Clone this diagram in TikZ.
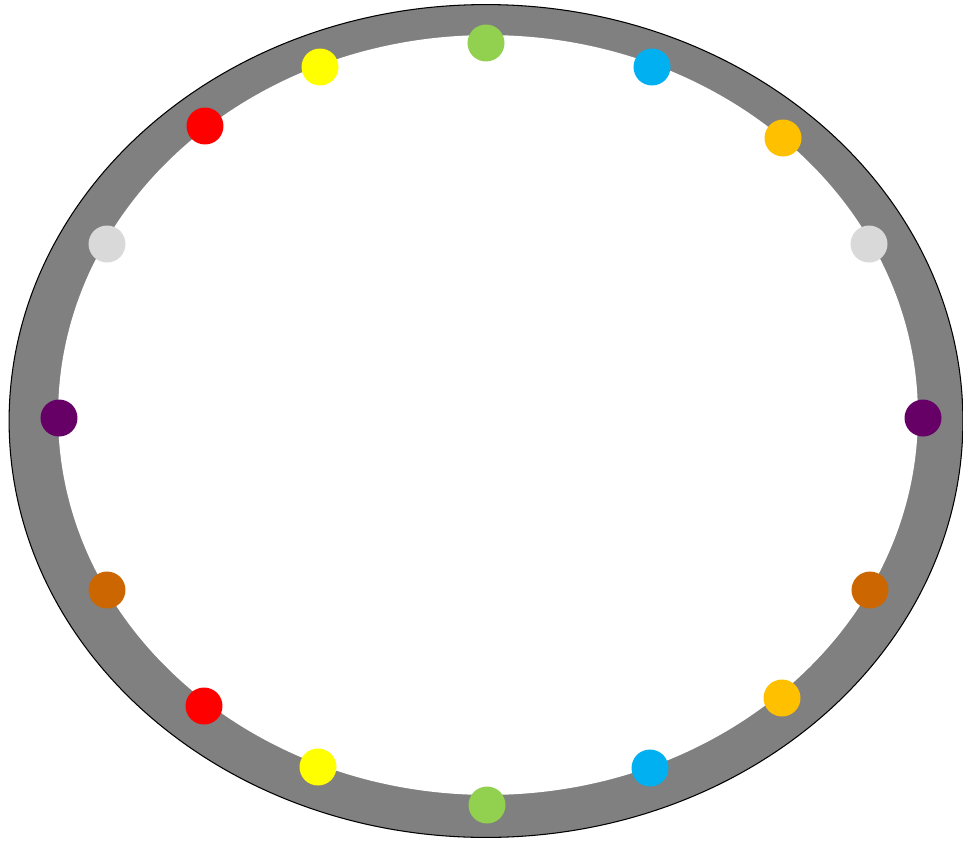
\documentclass[tikz,border=0pt]{standalone}
\usepackage{xcolor}
\usepackage{tikz}
\definecolor{cring}{HTML}{808080}
\definecolor{cgreen}{HTML}{92D050}
\definecolor{cyellow}{HTML}{FFFF00}
\definecolor{cblue}{HTML}{00B0F0}
\definecolor{corange}{HTML}{FFC000}
\definecolor{clight}{HTML}{D9D9D9}
\definecolor{cpurple}{HTML}{660066}
\definecolor{cbrown}{HTML}{CC6600}
\definecolor{cred}{HTML}{FF0000}
\tikzset{
  ring/.style={fill=cring,draw=black,line width=0.6pt},
  hole/.style={fill=white},
  dot/.style={line width=0pt},
}

\begin{document}
\begin{tikzpicture}[x=0.02cm,y=-0.02cm]
\useasboundingbox (0,0) rectangle (963,842);

% ================= RING =================
\path[ring] (486,421) ellipse [x radius=9.54cm,y radius=8.33cm];
\path[hole] (488,415) ellipse [x radius=8.6cm,y radius=7.6cm];

% ================= DOTS =================
\foreach \px/\py/\col in {486/43/cgreen, 320/67/cyellow, 205/126/cred,
    107/244/clight, 59/418/cpurple, 107/590/cbrown, 204/706/cred,
    318/767/cyellow, 487/805/cgreen, 650/768/cblue, 782/698/corange,
    870/590/cbrown, 923/418/cpurple, 869/244/clight, 783/138/corange,
    652/67/cblue}
   \fill[dot,\col] (\px,\py) circle (0.37cm);

\end{tikzpicture}
\end{document}
